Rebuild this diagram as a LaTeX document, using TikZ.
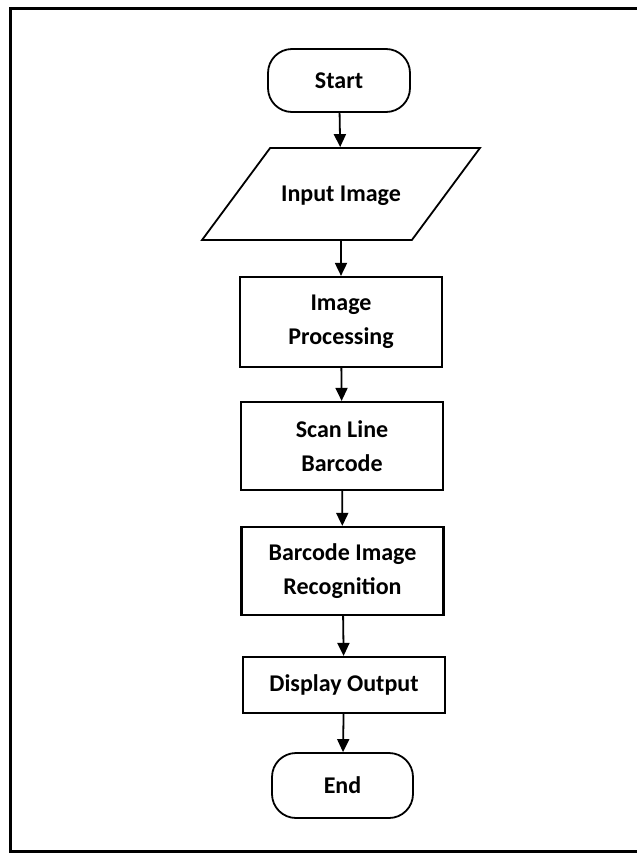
\documentclass[tikz,border=0pt]{standalone}
\usepackage{fontspec}
\setmainfont{Carlito}
\usetikzlibrary{shapes.geometric,arrows.meta}

\begin{document}
\begin{tikzpicture}[x=1pt,y=-1pt,
        every node/.style={font=\bfseries\fontsize{24}{34}\selectfont, align=center},
        terminal/.style={draw, line width=1.8pt, rounded corners=24pt, minimum width=142pt, minimum height=63pt},
        iobox/.style={draw, line width=1.8pt, trapezium, trapezium left angle=53.5, trapezium right angle=126.5,
                      inner xsep=11pt, inner ysep=0pt, text height=53.5pt, text depth=38.5pt},
        procbox/.style={draw, line width=2.2pt, minimum width=202pt},
        flow/.style={line width=1.8pt, -{Triangle[width=12pt,length=13pt]}}]
        \useasboundingbox (0,0) rectangle (637,854);

        % frame (right edge is cut off)
        \draw[line width=3pt] (637,8) -- (10,8) -- (10,851) -- (637,851);

        \node[terminal] (start) at (339,80.5) {Start};
        \node[iobox] (input) at (341,194) {Input Image};
        \node[procbox, minimum height=90pt] (proc) at (341,322) {Image\\Processing};
        \node[procbox, minimum height=88pt] (scan) at (342,446) {Scan Line\\Barcode};
        \node[procbox, minimum height=88pt] (recog) at (342.5,571) {Barcode Image\\Recognition};
        \node[procbox, minimum height=56pt] (disp) at (344,685) {Display Output};
        \node[terminal, minimum width=141pt, minimum height=65pt] (end) at (342.5,785.5) {End};

        \draw[flow] (start) -- (input);
        \draw[flow] (input) -- (proc);
        \draw[flow] (proc) -- (scan);
        \draw[flow] (scan) -- (recog);
        \draw[flow] (recog) -- (disp);
        \draw[flow] (disp) -- (end);
    \end{tikzpicture}
\end{document}
